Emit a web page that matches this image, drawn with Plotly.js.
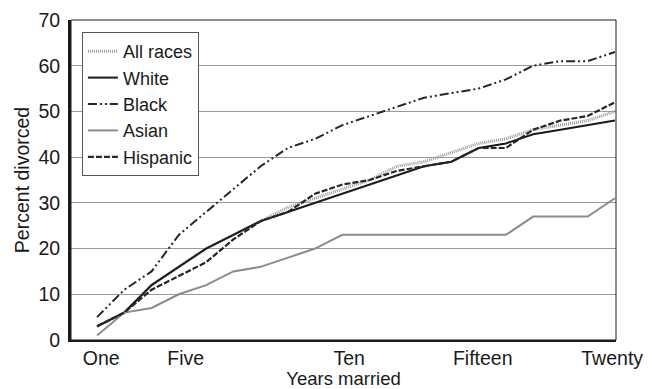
<!DOCTYPE html>
<html>
<head>
<meta charset="utf-8">
<script src="https://cdn.plot.ly/plotly-3.0.1.min.js"></script>
<style>html,body{margin:0;padding:0;background:#fff;}#chart{width:652px;height:389px;}</style>
</head>
<body>
<div id="chart"></div>
<script>
// Years of marriage (1..20)
const years = [1,2,3,4,5,6,7,8,9,10,11,12,13,14,15,16,17,18,19,20];
// Tick labels and where they sit on the year axis
const tickLabels = ["One","Five","Ten","Fifteen","Twenty"];
const tickYears = [1.15,4.25,10.25,15.15,19.9];
// Percent divorced
const allRaces = [3,6,12,16,20,23,26,29,31,33,35,38,39,41,43,44,46,47,48,50];
const white    = [3,6,12,16,20,23,26,28,30,32,34,36,38,39,42,43,45,46,47,48];
const black    = [5,11,15,23,28,33,38,42,44,47,49,51,53,54,55,57,60,61,61,63];
const asian    = [1,6,7,10,12,15,16,18,20,23,23,23,23,23,23,23,27,27,27,31];
const hispanic = [3,6,11,14,17,22,26,28,32,34,35,37,38,39,42,42,46,48,49,52];

const fam = "Liberation Sans, Arial, sans-serif";
const font = {family: fam, size: 19.5, color: "#1a1a1a"};
const titleFontX = {family: fam, size: 18.5, color: "#1a1a1a"};

const traces = [
  {name: "All races", y: allRaces, line: {color: "#9a9a9a", width: 3, dash: "1px,1px"}},
  {name: "White", y: white, line: {color: "#1a1a1a", width: 2}},
  {name: "Black", y: black, line: {color: "#262626", width: 2, dash: "9px,3px,2px,3px,2px,3px"}},
  {name: "Asian", y: asian, line: {color: "#8c8c8c", width: 2}},
  {name: "Hispanic", y: hispanic, line: {color: "#262626", width: 2.2, dash: "6px,2px"}}
].map(t => Object.assign({x: years, type: "scatter", mode: "lines", hoverinfo: "skip"}, t));

const layout = {
  width: 652, height: 389,
  margin: {l: 71, r: 36, t: 20, b: 49},
  paper_bgcolor: "#fff", plot_bgcolor: "#fff",
  font: font,
  showlegend: true,
  legend: {
    x: 0.02, y: 0.9625, xanchor: "left", yanchor: "top",
    bgcolor: "#fff", bordercolor: "#555", borderwidth: 1,
    font: {family: fam, size: 18, color: "#1a1a1a"},
    itemwidth: 30, tracegroupgap: 0
  },
  xaxis: {
    range: [0.044, 20.04],
    tickmode: "array", tickvals: tickYears, ticktext: tickLabels,
    showgrid: false, zeroline: false,
    showline: true, linecolor: "#1a1a1a", linewidth: 2,
    ticks: "", tickfont: font, ticklabelstandoff: 0,
    title: {text: "Years married", font: titleFontX, standoff: 0}
  },
  yaxis: {
    range: [0, 70], dtick: 10,
    showgrid: true, gridcolor: "#9a9a9a", gridwidth: 1,
    zeroline: false,
    showline: true, linecolor: "#1a1a1a", linewidth: 3,
    ticks: "", tickfont: font, ticklabelstandoff: 4,
    title: {text: "Percent divorced", font: font, standoff: 4}
  },
  shapes: [{type: "rect", xref: "paper", yref: "paper", x0: 0, x1: 1, y0: 0, y1: 1,
            line: {color: "#1a1a1a", width: 1}, layer: "above"}]
};

Plotly.newPlot("chart", traces, layout, {staticPlot: true, displayModeBar: false});
</script>
</body>
</html>
